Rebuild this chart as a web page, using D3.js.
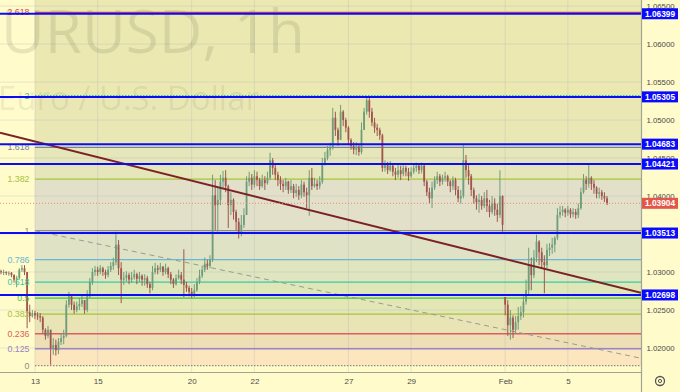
<!DOCTYPE html>
<html><head><meta charset="utf-8">
<script src="https://cdn.jsdelivr.net/npm/d3@7"></script>
<style>body{margin:0;background:#fffbcb;} svg{display:block;}</style>
</head><body><svg id="c" width="680" height="392"></svg>
<script>
// ---------- DATA ----------
const watermarkTitle = "EURUSD, 1h";
const watermarkSub = "Euro / U.S. Dollar";
// 2-hour candles, index 13 = Jan 13 00:00
const closes = [
1.0300,1.0300,1.0299,1.0299,1.0296,1.0290,1.0292,1.0303,1.0305,1.0300,
1.0247,1.0242,1.0246,1.0243,1.0242,1.0240,1.0224,1.0216,1.0224,1.0200,
1.0204,1.0197,1.0208,1.0213,1.0216,1.0257,1.0268,1.0257,1.0250,1.0255,
1.0258,1.0263,1.0250,1.0268,1.0287,1.0300,1.0303,1.0300,1.0305,1.0300,
1.0296,1.0303,1.0308,1.0313,1.0336,1.0305,1.0290,1.0292,1.0296,1.0290,
1.0293,1.0297,1.0291,1.0295,1.0290,1.0292,1.0284,1.0279,1.0300,1.0305,
1.0303,1.0307,1.0300,1.0305,1.0297,1.0290,1.0284,1.0292,1.0296,1.0290,
1.0283,1.0279,1.0274,1.0271,1.0276,1.0287,1.0295,1.0303,1.0311,1.0308,
1.0316,1.0401,1.0388,1.0395,1.0419,1.0424,1.0413,1.0388,1.0395,1.0379,
1.0366,1.0353,1.0362,1.0375,1.0419,1.0424,1.0415,1.0426,1.0421,1.0413,
1.0421,1.0417,1.0424,1.0447,1.0437,1.0428,1.0421,1.0416,1.0413,1.0419,
1.0408,1.0413,1.0404,1.0408,1.0401,1.0415,1.0405,1.0401,1.0424,1.0413,
1.0416,1.0413,1.0419,1.0441,1.0450,1.0461,1.0463,1.0503,1.0487,1.0474,
1.0511,1.0500,1.0490,1.0474,1.0466,1.0461,1.0465,1.0458,1.0487,1.0511,
1.0526,1.0511,1.0497,1.0490,1.0487,1.0480,1.0437,1.0441,1.0434,1.0440,
1.0432,1.0428,1.0434,1.0429,1.0437,1.0432,1.0426,1.0432,1.0437,1.0440,
1.0434,1.0440,1.0419,1.0405,1.0397,1.0411,1.0421,1.0426,1.0419,1.0424,
1.0426,1.0419,1.0413,1.0421,1.0408,1.0397,1.0400,1.0447,1.0434,1.0426,
1.0408,1.0397,1.0392,1.0395,1.0387,1.0397,1.0387,1.0379,1.0391,1.0382,
1.0375,1.0400,1.0362,1.0257,1.0230,1.0240,1.0224,1.0234,1.0242,1.0247,
1.0261,1.0276,1.0309,1.0296,1.0319,1.0340,1.0326,1.0313,1.0309,1.0329,
1.0332,1.0336,1.0345,1.0375,1.0379,1.0382,1.0378,1.0382,1.0376,1.0379,
1.0375,1.0384,1.0405,1.0421,1.0416,1.0424,1.0416,1.0411,1.0403,1.0405,
1.0400,1.0397,1.03904];
const highs = [
1.0303,1.0303,1.0301,1.0301,1.0300,1.0297,1.0295,1.0305,1.0309,1.0309,
1.0300,1.0257,1.0250,1.0249,1.0247,1.0246,1.0242,1.0226,1.0229,1.0224,
1.0213,1.0211,1.0213,1.0219,1.0224,1.0263,1.0274,1.0271,1.0261,1.0261,
1.0266,1.0270,1.0263,1.0276,1.0292,1.0305,1.0308,1.0307,1.0309,1.0307,
1.0303,1.0308,1.0313,1.0319,1.0353,1.0342,1.0313,1.0300,1.0301,1.0299,
1.0300,1.0303,1.0299,1.0300,1.0297,1.0297,1.0295,1.0287,1.0308,1.0312,
1.0309,1.0312,1.0308,1.0311,1.0307,1.0300,1.0292,1.0297,1.0303,1.0300,
1.0330,1.0287,1.0282,1.0279,1.0284,1.0292,1.0303,1.0308,1.0319,1.0316,
1.0322,1.0428,1.0421,1.0413,1.0428,1.0433,1.0434,1.0415,1.0405,1.0397,
1.0382,1.0371,1.0375,1.0384,1.0426,1.0432,1.0429,1.0434,1.0432,1.0424,
1.0428,1.0426,1.0432,1.0457,1.0450,1.0441,1.0432,1.0426,1.0421,1.0424,
1.0420,1.0421,1.0416,1.0416,1.0413,1.0421,1.0419,1.0411,1.0434,1.0437,
1.0424,1.0421,1.0426,1.0450,1.0458,1.0466,1.0470,1.0516,1.0511,1.0490,
1.0520,1.0513,1.0503,1.0492,1.0476,1.0471,1.0471,1.0468,1.0497,1.0516,
1.0530,1.0529,1.0516,1.0503,1.0495,1.0490,1.0482,1.0447,1.0445,1.0446,
1.0442,1.0437,1.0441,1.0440,1.0442,1.0440,1.0437,1.0438,1.0442,1.0444,
1.0442,1.0444,1.0442,1.0421,1.0411,1.0419,1.0426,1.0432,1.0429,1.0428,
1.0432,1.0428,1.0421,1.0426,1.0424,1.0413,1.0408,1.0467,1.0454,1.0442,
1.0429,1.0411,1.0401,1.0403,1.0400,1.0405,1.0408,1.0395,1.0400,1.0397,
1.0390,1.0434,1.0401,1.0267,1.0263,1.0250,1.0243,1.0242,1.0254,1.0255,
1.0268,1.0290,1.0332,1.0319,1.0329,1.0349,1.0342,1.0332,1.0322,1.0337,
1.0338,1.0345,1.0347,1.0384,1.0387,1.0387,1.0384,1.0387,1.0384,1.0384,
1.0383,1.0390,1.0411,1.0429,1.0426,1.0441,1.0426,1.0421,1.0413,1.0411,
1.0408,1.0405,1.0400];
const lows = [
1.0297,1.0296,1.0296,1.0295,1.0293,1.0286,1.0280,1.0290,1.0300,1.0296,
1.0226,1.0234,1.0240,1.0238,1.0237,1.0234,1.0219,1.0211,1.0213,1.0178,
1.0191,1.0190,1.0192,1.0204,1.0205,1.0214,1.0253,1.0250,1.0245,1.0247,
1.0250,1.0254,1.0245,1.0247,1.0266,1.0283,1.0295,1.0295,1.0297,1.0295,
1.0291,1.0293,1.0300,1.0303,1.0309,1.0296,1.0259,1.0283,1.0287,1.0284,
1.0286,1.0290,1.0284,1.0287,1.0282,1.0282,1.0279,1.0272,1.0276,1.0297,
1.0297,1.0300,1.0295,1.0297,1.0292,1.0284,1.0279,1.0282,1.0290,1.0284,
1.0267,1.0274,1.0268,1.0266,1.0267,1.0274,1.0284,1.0292,1.0300,1.0303,
1.0305,1.0313,1.0355,1.0353,1.0388,1.0411,1.0405,1.0358,1.0375,1.0369,
1.0355,1.0344,1.0347,1.0358,1.0375,1.0413,1.0408,1.0411,1.0413,1.0408,
1.0411,1.0408,1.0415,1.0421,1.0428,1.0421,1.0413,1.0408,1.0405,1.0408,
1.0403,1.0404,1.0397,1.0399,1.0395,1.0397,1.0399,1.0384,1.0374,1.0408,
1.0411,1.0408,1.0409,1.0416,1.0440,1.0447,1.0453,1.0461,1.0479,1.0466,
1.0474,1.0492,1.0484,1.0467,1.0461,1.0455,1.0454,1.0453,1.0455,1.0487,
1.0507,1.0503,1.0492,1.0483,1.0479,1.0474,1.0432,1.0432,1.0429,1.0432,
1.0426,1.0421,1.0424,1.0421,1.0426,1.0426,1.0420,1.0424,1.0429,1.0432,
1.0429,1.0430,1.0413,1.0400,1.0390,1.0384,1.0408,1.0416,1.0413,1.0415,
1.0419,1.0413,1.0405,1.0408,1.0401,1.0392,1.0390,1.0397,1.0424,1.0415,
1.0400,1.0390,1.0382,1.0378,1.0382,1.0384,1.0379,1.0372,1.0376,1.0374,
1.0366,1.0371,1.0353,1.0243,1.0216,1.0211,1.0213,1.0219,1.0224,1.0237,
1.0240,1.0257,1.0270,1.0276,1.0292,1.0313,1.0309,1.0305,1.0272,1.0305,
1.0321,1.0324,1.0326,1.0342,1.0371,1.0374,1.0372,1.0374,1.0371,1.0372,
1.0370,1.0371,1.0382,1.0403,1.0408,1.0411,1.0408,1.0403,1.0397,1.0397,
1.0395,1.0392,1.0388];
const firstOpen = 1.0301;
const gapOpens = {193: 1.0267};   // weekend gap open (Feb 3)

const timeTickIdx = [13, 37, 73, 97, 133, 157, 193, 217];
const timeTickLabels = ["13", "15", "20", "22", "27", "29", "Feb", "5"];
const priceTicks = [1.065, 1.060, 1.055, 1.050, 1.045, 1.040, 1.035, 1.030, 1.025, 1.020];
const priceTickLabelsShown = [1.065, 1.060, 1.055, 1.050, 1.045, 1.040, 1.030, 1.025, 1.020];
const hLevels = [1.06399, 1.05305, 1.04683, 1.04421, 1.03513, 1.02698];
const lastPrice = 1.03904;

const fibLevels = [0, 0.125, 0.236, 0.382, 0.5, 0.618, 0.786, 1, 1.382, 1.618, 2, 2.618];
const fibLabels = ["0", "0.125", "0.236", "0.382", "0.5", "0.618", "0.786", "1", "1.382", "1.618", "2", "2.618"];
const fibLineColors = ["#8c8c8c", "#9a84c8", "#dd5e5e", "#a5c43c", "#3fc23f", "#3cc9a2", "#6ab6d4", "#8c8c8c", "#a5c43c", "#7382aa", "#2fbf9c", "#e04848"];
const fibZoneColors = ["#fbe6bd", "#eedfb6", "#e8e4b6", "#e3e7b5", "#dfe7b8", "#dfe5bf", "#e0e2c5", "#e2e0c9", "#e5e6b9", "#e9e8b5", "#ebe9b1", "#ebe9b1"];
const fibLow = 1.01768, fibHigh = 1.03544;
const fibStartIdx = 13, fibEndIdx = 258.4;
const trendA = {i: 0, p: 1.0483}, trendB = {i: 245, p: 1.02725};

// ---------- CHART ----------
const W = 680, H = 392, plotR = 641, plotB = 372;
const svg = d3.select("#c").style("font-family", "'Liberation Sans', Arial, sans-serif");
const x = d3.scaleLinear().domain([0, 245]).range([1, plotR]);
const y = d3.scaleLinear().domain([1.01684, 1.0658]).range([plotB, 0]);
const fibP = l => fibLow + l * (fibHigh - fibLow);

svg.append("rect").attr("width", W).attr("height", H).attr("fill", "#fffbcb");
svg.append("defs").append("clipPath").attr("id", "plot")
  .append("rect").attr("width", plotR).attr("height", plotB);
const g = svg.append("g").attr("clip-path", "url(#plot)");

// fib zones
const fx0 = x(fibStartIdx);
fibLevels.forEach((l, k) => {
  const top = k < fibLevels.length - 1 ? y(fibP(fibLevels[k + 1])) : 0;
  g.append("rect").attr("x", fx0).attr("width", plotR - fx0)
    .attr("y", top).attr("height", y(fibP(l)) - top).attr("fill", fibZoneColors[k]);
});

// grid
g.selectAll(".vg").data(timeTickIdx).join("line")
  .attr("x1", d => x(d)).attr("x2", d => x(d)).attr("y1", 0).attr("y2", plotB)
  .attr("stroke", "#b4b4b4").attr("stroke-opacity", 0.3);
g.selectAll(".hg").data(priceTicks).join("line")
  .attr("x1", 0).attr("x2", plotR).attr("y1", d => y(d)).attr("y2", d => y(d))
  .attr("stroke", "#b4b4b4").attr("stroke-opacity", 0.3);

// watermark
const wm = g.append("text").attr("y", 53).attr("font-family", "'Open Sans', sans-serif")
  .attr("font-size", 66).attr("fill", "#000").attr("fill-opacity", 0.09).text(watermarkTitle);
{
  const n = wm.node();
  const w = n.getSubStringLength(1, watermarkTitle.length - 1);
  wm.attr("font-size", 66 * 304 / w);
  wm.attr("x", 1 - n.getSubStringLength(0, 1));
}
const ws = g.append("text").attr("y", 110).attr("x", -2).attr("font-family", "'Open Sans', sans-serif")
  .attr("font-size", 32).attr("fill", "#000").attr("fill-opacity", 0.08).text(watermarkSub);
{
  const n = ws.node();
  const w = n.getComputedTextLength();
  ws.attr("font-size", 32 * 261 / w);
}

// fib lines
fibLevels.forEach((l, k) => {
  const yy = y(fibP(l));
  g.append("line").attr("x1", fx0).attr("x2", plotR).attr("y1", yy).attr("y2", yy)
    .attr("stroke", fibLineColors[k]).attr("stroke-width", 1.3)
    .attr("stroke-dasharray", (l === 0 || l === 2) ? "1.5,1.5" : null);
});
// fib trend (dashed)
g.append("line").attr("x1", x(fibStartIdx)).attr("y1", y(fibHigh))
  .attr("x2", x(fibEndIdx)).attr("y2", y(fibLow))
  .attr("stroke", "#9a9a96").attr("stroke-width", 1).attr("stroke-dasharray", "5,4");

// candles
const candles = closes.map((c, i) => {
  const o = gapOpens[i] !== undefined ? gapOpens[i] : (i === 0 ? firstOpen : closes[i - 1]);
  return {i, o, c, h: highs[i], l: lows[i]};
});
const up = "#6f9d7c", dn = "#a0564f";
const cg = g.append("g");
cg.selectAll("line").data(candles).join("line")
  .attr("x1", d => x(d.i)).attr("x2", d => x(d.i))
  .attr("y1", d => y(Math.max(d.h, d.o, d.c))).attr("y2", d => y(Math.min(d.l, d.o, d.c)))
  .attr("stroke", d => d.c >= d.o ? up : dn).attr("stroke-width", 1);
cg.selectAll("rect").data(candles).join("rect")
  .attr("x", d => x(d.i) - 0.9).attr("width", 1.8)
  .attr("y", d => y(Math.max(d.o, d.c)))
  .attr("height", d => Math.max(1, Math.abs(y(d.o) - y(d.c))))
  .attr("fill", d => d.c >= d.o ? up : dn);

// trend line (maroon)
{
  const x1 = x(trendA.i), y1 = y(trendA.p), x2 = x(trendB.i), y2 = y(trendB.p);
  const s = (y2 - y1) / (x2 - x1);
  g.append("line").attr("x1", 0).attr("y1", y1 - s * x1).attr("x2", plotR).attr("y2", y1 + s * (plotR - x1))
    .attr("stroke", "#7b2127").attr("stroke-width", 2);
}

// fib labels
fibLevels.forEach((l, k) => {
  g.append("text").attr("x", 29.5).attr("y", y(fibP(l))).attr("dy", "0.35em")
    .attr("text-anchor", "end").attr("font-size", 8.8).attr("fill", fibLineColors[k]).text(fibLabels[k]);
});

// blue horizontal lines
g.selectAll(".hl").data(hLevels).join("line")
  .attr("x1", 0).attr("x2", plotR).attr("y1", d => y(d)).attr("y2", d => y(d))
  .attr("stroke", "#0b0bf5").attr("stroke-width", 2);

// last price dotted line
g.append("line").attr("x1", 0).attr("x2", plotR).attr("y1", y(lastPrice)).attr("y2", y(lastPrice))
  .attr("stroke", "#ec8b78").attr("stroke-dasharray", "1,2");

// axes
const ay = svg.append("g").attr("transform", `translate(${plotR},0)`)
  .call(d3.axisRight(y).tickValues(priceTickLabelsShown).tickFormat(d3.format(".5f")).tickSize(0).tickPadding(0));
ay.select(".domain").remove();
ay.selectAll("text").attr("x", 19.5).attr("text-anchor", "middle").attr("font-size", 7.8)
  .attr("fill", "#4a4a4a").attr("font-family", "'Liberation Sans', Arial, sans-serif");

const ax = svg.append("g").attr("transform", `translate(0,${plotB})`)
  .call(d3.axisBottom(x).tickValues(timeTickIdx).tickFormat((d, i) => timeTickLabels[i]).tickSize(0).tickPadding(6));
ax.select(".domain").remove();
ax.selectAll("text").attr("font-size", 8).attr("fill", "#4a4a4a")
  .attr("font-family", "'Liberation Sans', Arial, sans-serif");

svg.append("line").attr("x1", 0).attr("x2", plotR).attr("y1", plotB + 0.5).attr("y2", plotB + 0.5)
  .attr("stroke", "#a3a394").attr("stroke-width", 1.2);
svg.append("line").attr("x1", plotR + 0.5).attr("x2", plotR + 0.5).attr("y1", 0).attr("y2", H)
  .attr("stroke", "#a3a394").attr("stroke-width", 1.2);

// price labels
const tags = hLevels.map(p => ({p, c: "#0a0aff"})).concat([{p: lastPrice, c: "#e2574a"}]);
tags.forEach(t => {
  const yy = y(t.p);
  svg.append("rect").attr("x", plotR + 1).attr("y", yy - 5.5).attr("width", 36).attr("height", 11).attr("fill", t.c);
  svg.append("text").attr("x", plotR + 19).attr("y", yy).attr("dy", "0.35em").attr("text-anchor", "middle")
    .attr("font-size", 8.3).attr("font-weight", "bold").attr("fill", "#fff").text(d3.format(".5f")(t.p));
});

// gear icon
svg.append("circle").attr("cx", 660).attr("cy", 381).attr("r", 4.5).attr("fill", "none").attr("stroke", "#555").attr("stroke-width", 1.3);
svg.append("circle").attr("cx", 660).attr("cy", 381).attr("r", 1.6).attr("fill", "none").attr("stroke", "#555").attr("stroke-width", 1);
</script></body></html>
